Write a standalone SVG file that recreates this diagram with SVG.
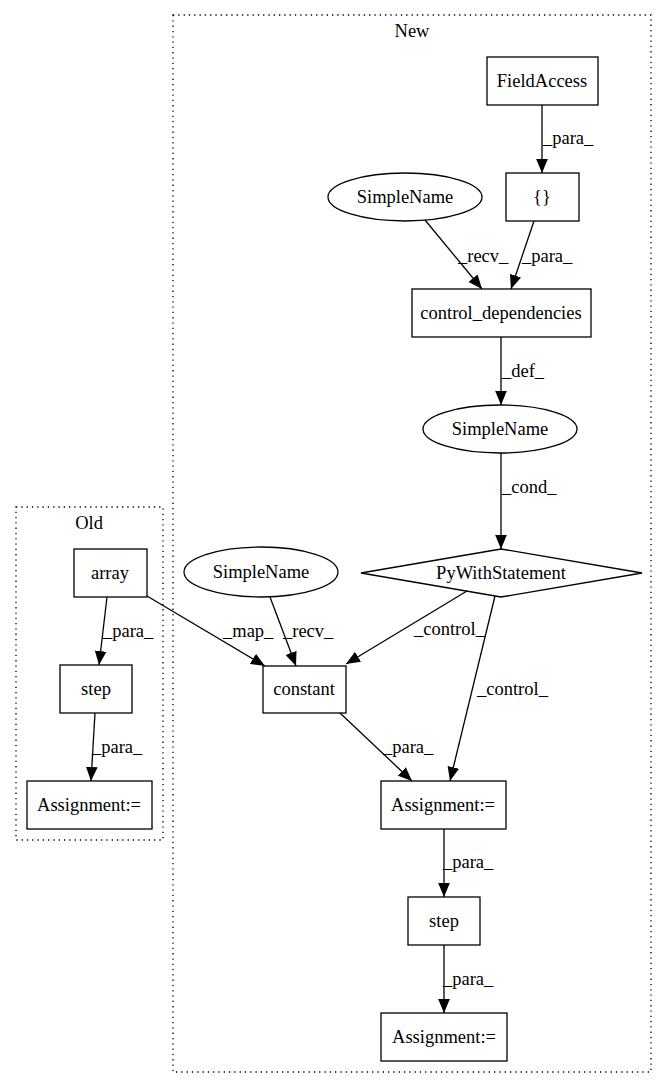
<svg xmlns="http://www.w3.org/2000/svg" width="667" height="1088" viewBox="0 0 667 1088">
<style>
text{font-family:"Liberation Serif","Times New Roman",serif;font-size:18.5px;fill:#000}
.n{fill:none;stroke:#000;stroke-width:1.3}
.c{fill:none;stroke:#000;stroke-width:1.3;stroke-dasharray:1.3,4}
.e{fill:none;stroke:#000;stroke-width:1.3;marker-end:url(#ah)}
.m{text-anchor:middle}
</style>
<defs>
<marker id="ah" markerUnits="userSpaceOnUse" markerWidth="14" markerHeight="12" refX="12" refY="5" orient="auto" viewBox="0 0 12 10">
<polygon points="0,0 12,5 0,10" fill="#000"/>
</marker>
</defs>
<rect width="667" height="1088" fill="#fff"/>
<g id="cluster_new">
<rect class="c" x="173" y="15" width="478" height="1057"/>
<text class="m" x="412" y="37">New</text>
</g>
<g id="cluster_old">
<rect class="c" x="16" y="507" width="147" height="333"/>
<text class="m" x="89" y="529">Old</text>
</g>
<g id="connectors">
<path class="e" d="M542,105 L542,173"/>
<text x="543" y="144">_para_</text>
<path class="e" d="M425,220 L482,289"/>
<text x="458" y="262">_recv_</text>
<path class="e" d="M534,221 L511,289"/>
<text x="522" y="262">_para_</text>
<path class="e" d="M501,337 L501,405"/>
<text x="502" y="377">_def_</text>
<path class="e" d="M501,453 L501,549"/>
<text x="502" y="493">_cond_</text>
<path class="e" d="M467,591 L346,664"/>
<text x="414" y="635">_control_</text>
<path class="e" d="M495,596 L450,781"/>
<text x="477" y="695">_control_</text>
<path class="e" d="M340,713 L412,781"/>
<text x="383" y="753">_para_</text>
<path class="e" d="M270,597 L296,666"/>
<text x="283" y="637">_recv_</text>
<path class="e" d="M147,596 L265,666"/>
<text x="223" y="637">_map_</text>
<path class="e" d="M107,597 L99,665"/>
<text x="103" y="637">_para_</text>
<path class="e" d="M95,713 L91,781"/>
<text x="92" y="753">_para_</text>
<path class="e" d="M444,829 L444,897"/>
<text x="443" y="868">_para_</text>
<path class="e" d="M444,945 L444,1013"/>
<text x="443" y="985">_para_</text>
</g>
<g id="n_fieldaccess"><rect class="n" x="487" y="57" width="111" height="48"/><text class="m" x="542" y="87">FieldAccess</text></g>
<g id="n_braces"><rect class="n" x="506" y="173" width="73" height="48"/><text class="m" x="542" y="203">{}</text></g>
<g id="n_simplename1"><ellipse class="n" cx="405" cy="197" rx="77" ry="24"/><text class="m" x="405" y="203">SimpleName</text></g>
<g id="n_controldeps"><rect class="n" x="412" y="289" width="179" height="48"/><text class="m" x="501" y="319">control_dependencies</text></g>
<g id="n_simplename2"><ellipse class="n" cx="500" cy="429" rx="77" ry="24"/><text class="m" x="500" y="435">SimpleName</text></g>
<g id="n_pywith"><polygon class="n" points="501,549 642,573 501,597 361,573"/><text class="m" x="501" y="579">PyWithStatement</text></g>
<g id="n_simplename3"><ellipse class="n" cx="261" cy="572" rx="77" ry="25"/><text class="m" x="261" y="578">SimpleName</text></g>
<g id="n_constant"><rect class="n" x="263" y="666" width="83" height="47"/><text class="m" x="304" y="695">constant</text></g>
<g id="n_array"><rect class="n" x="74" y="549" width="73" height="48"/><text class="m" x="110" y="579">array</text></g>
<g id="n_step_old"><rect class="n" x="60" y="665" width="72" height="48"/><text class="m" x="96" y="695">step</text></g>
<g id="n_assign_old"><rect class="n" x="27" y="781" width="125" height="48"/><text class="m" x="89" y="811">Assignment:=</text></g>
<g id="n_assign_new"><rect class="n" x="381" y="781" width="125" height="48"/><text class="m" x="443" y="811">Assignment:=</text></g>
<g id="n_step_new"><rect class="n" x="408" y="897" width="72" height="48"/><text class="m" x="444" y="927">step</text></g>
<g id="n_assign_new2"><rect class="n" x="381" y="1013" width="126" height="48"/><text class="m" x="444" y="1043">Assignment:=</text></g>
</svg>
